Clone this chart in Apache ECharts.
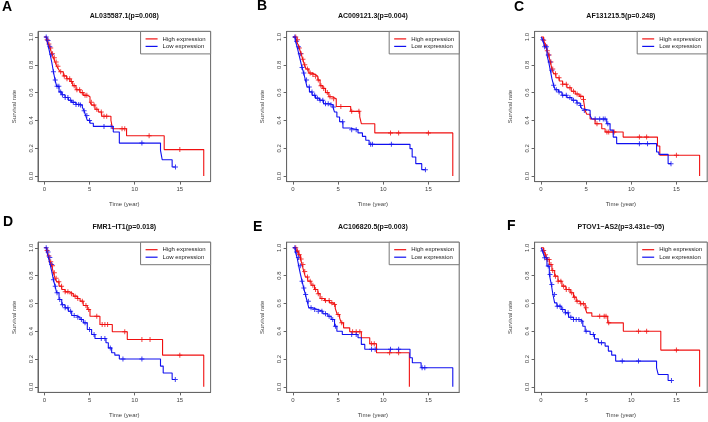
<!DOCTYPE html>
<html>
<head>
<meta charset="utf-8">
<script src="https://cdn.jsdelivr.net/npm/echarts@6.0.0/dist/echarts.min.js"></script>
<style>
html, body { margin: 0; padding: 0; background: #fff; }
#main { width: 708px; height: 422px; }
</style>
</head>
<body>
<div id="main"></div>
<script>
// panel titles and letters
const letters = ['A', 'B', 'C', 'D', 'E', 'F'];
const titles = ['AL035587.1(p=0.008)', 'AC009121.3(p=0.004)', 'AF131215.5(p=0.248)',
                'FMR1\u2212IT1(p=0.018)', 'AC106820.5(p=0.003)', 'PTOV1\u2212AS2(p=3.431e\u221205)'];
const seriesNames = ['High expression', 'Low expression'];
const tickX = [0, 5, 10, 15];
const tickY = [0, 0.2, 0.4, 0.6, 0.8, 1.0];

// KM steps: [time (year), survival after the event]
const highStepsA = [[0,1],[0.26,0.98],[0.44,0.95],[0.63,0.92],[0.81,0.88],[1.0,0.85],[1.18,0.82],[1.36,0.79],[1.55,0.77],[1.73,0.75],[2.1,0.72],[2.47,0.70],[2.84,0.68],[3.13,0.65],[3.5,0.62],[3.95,0.60],[4.3,0.58],[4.75,0.57],[5.05,0.53],[5.23,0.51],[5.6,0.48],[5.97,0.46],[6.34,0.43],[7.37,0.40],[7.55,0.34],[9.1,0.29],[13.27,0.19],[17.65,0]];
const lowStepsA = [[0,1],[0.26,0.975],[0.44,0.93],[0.63,0.875],[0.81,0.82],[1.0,0.75],[1.18,0.69],[1.36,0.645],[1.62,0.605],[1.92,0.585],[2.29,0.565],[2.65,0.545],[3.02,0.53],[3.5,0.515],[3.95,0.51],[4.2,0.495],[4.39,0.47],[4.57,0.435],[4.75,0.40],[5.05,0.38],[5.42,0.357],[7.63,0.317],[8.3,0.237],[12.86,0.185],[13.05,0.117],[14.15,0.065],[14.52,0.065]];
const highCensA = [0.3,0.5,0.7,0.9,1.1,1.3,1.5,1.8,2.2,2.5,2.8,3.0,3.3,3.6,3.9,4.2,4.5,4.7,5.2,5.5,5.8,6.3,6.6,6.9,8.6,8.9,11.6,15.0];
const lowCensA = [0.2,0.4,0.6,0.8,1.0,1.2,1.4,1.6,1.8,2.0,2.3,2.6,2.9,3.2,3.5,3.8,4.0,4.4,4.7,5.0,6.6,7.4,10.8,14.52];

const highStepsB = [[0,1],[0.33,0.98],[0.52,0.95],[0.7,0.92],[0.89,0.88],[1.08,0.84],[1.26,0.80],[1.45,0.77],[1.75,0.74],[2.12,0.73],[2.49,0.717],[2.75,0.69],[3.0,0.65],[3.3,0.63],[3.6,0.60],[3.97,0.57],[4.34,0.556],[4.79,0.50],[6.39,0.465],[7.39,0.425],[7.57,0.376],[9.06,0.31],[17.7,0]];
const lowStepsB = [[0,1],[0.26,0.97],[0.45,0.93],[0.63,0.88],[0.82,0.83],[1.0,0.78],[1.19,0.74],[1.37,0.69],[1.56,0.64],[1.82,0.605],[2.12,0.58],[2.49,0.56],[2.93,0.545],[3.38,0.52],[4.05,0.513],[4.42,0.496],[4.6,0.46],[4.86,0.424],[5.16,0.39],[5.53,0.345],[6.28,0.333],[7.2,0.31],[7.69,0.285],[8.06,0.257],[8.43,0.228],[12.96,0.197],[13.2,0.137],[13.6,0.089],[14.26,0.046],[14.67,0.046]];
const highCensB = [0.3,0.5,0.7,0.9,1.1,1.3,1.6,1.9,2.2,2.5,2.8,3.1,3.4,3.8,4.1,4.5,5.3,6.5,7.3,10.8,11.7,15.0];
const lowCensB = [0.2,0.4,0.6,0.8,1.0,1.2,1.5,1.8,2.1,2.4,2.7,3.0,3.3,3.6,3.9,4.2,4.5,5.5,6.5,7.0,8.6,8.8,10.9,14.67];

const highStepsC = [[0,1],[0.29,0.976],[0.48,0.94],[0.66,0.90],[0.85,0.87],[1.03,0.82],[1.21,0.77],[1.4,0.736],[1.65,0.707],[2.02,0.683],[2.39,0.66],[2.87,0.635],[3.35,0.61],[3.79,0.59],[4.23,0.573],[4.7,0.55],[4.89,0.47],[5.07,0.444],[5.44,0.41],[5.99,0.376],[6.73,0.34],[7.1,0.317],[9.1,0.28],[12.9,0.216],[13.16,0.149],[17.57,0]];
const lowStepsC = [[0,1],[0.18,0.98],[0.4,0.93],[0.66,0.87],[0.85,0.82],[1.03,0.76],[1.21,0.70],[1.4,0.652],[1.58,0.62],[1.95,0.604],[2.32,0.58],[2.87,0.564],[3.42,0.545],[3.97,0.525],[4.34,0.508],[4.52,0.484],[4.7,0.472],[5.44,0.436],[5.63,0.41],[7.28,0.376],[7.65,0.33],[8.0,0.28],[8.38,0.233],[12.8,0.173],[13.05,0.156],[14.08,0.089],[14.4,0.089]];
const highCensC = [0.3,0.5,0.7,0.9,1.1,1.3,1.6,2.0,2.4,2.8,3.2,3.6,4.0,4.4,4.7,6.2,7.3,7.5,8.0,8.1,10.9,11.7,15.0];
const lowCensC = [0.2,0.4,0.6,0.8,1.0,1.2,1.4,1.7,2.0,2.4,2.8,3.2,3.6,4.0,4.4,4.8,6.0,6.5,6.9,7.1,7.4,10.9,11.8,14.4];

const highStepsD = [[0,1],[0.26,0.98],[0.44,0.94],[0.63,0.90],[0.81,0.87],[1.0,0.82],[1.18,0.78],[1.36,0.755],[1.62,0.724],[1.92,0.70],[2.29,0.683],[2.76,0.67],[3.2,0.652],[3.65,0.635],[3.95,0.616],[4.3,0.585],[4.75,0.556],[5.05,0.508],[6.15,0.448],[7.52,0.396],[9.18,0.34],[13.09,0.228],[17.65,0]];
const lowStepsD = [[0,1],[0.26,0.97],[0.44,0.93],[0.63,0.88],[0.81,0.83],[1.0,0.77],[1.18,0.724],[1.36,0.676],[1.62,0.628],[1.92,0.59],[2.29,0.568],[2.65,0.544],[3.02,0.513],[3.5,0.50],[3.95,0.484],[4.31,0.46],[4.75,0.412],[5.23,0.376],[5.6,0.348],[6.82,0.317],[7.08,0.28],[7.45,0.245],[7.8,0.228],[8.3,0.20],[12.86,0.149],[13.16,0.10],[14.15,0.053],[14.5,0.053]];
const highCensD = [0.3,0.5,0.7,0.9,1.1,1.3,1.6,1.9,2.3,2.6,3.0,3.4,3.7,4.2,4.6,4.9,5.8,6.4,6.7,7.0,8.9,10.8,11.7,15.0];
const lowCensD = [0.2,0.4,0.6,0.8,1.0,1.2,1.4,1.7,2.0,2.3,2.6,2.9,3.3,3.7,4.1,4.5,5.0,5.5,6.3,6.7,7.3,8.7,10.8,14.5];

const highStepsE = [[0,1],[0.33,0.976],[0.59,0.95],[0.82,0.92],[1.0,0.88],[1.19,0.83],[1.37,0.79],[1.63,0.76],[2.0,0.73],[2.38,0.70],[2.75,0.67],[3.0,0.635],[3.49,0.62],[4.05,0.604],[4.42,0.592],[4.68,0.564],[4.9,0.52],[5.16,0.496],[5.35,0.46],[5.6,0.424],[6.28,0.396],[7.57,0.353],[8.5,0.31],[9.25,0.245],[12.89,0]];
const lowStepsE = [[0,1],[0.26,0.97],[0.45,0.93],[0.63,0.87],[0.82,0.81],[1.0,0.76],[1.19,0.71],[1.37,0.664],[1.56,0.616],[1.75,0.568],[2.12,0.556],[2.75,0.544],[3.3,0.525],[3.86,0.508],[4.23,0.484],[4.6,0.436],[4.86,0.40],[5.46,0.376],[7.2,0.353],[7.57,0.305],[7.95,0.27],[12.96,0.209],[13.22,0.173],[14.19,0.137],[17.7,0]];
const highCensE = [0.3,0.5,0.7,0.9,1.1,1.3,1.6,1.9,2.2,2.5,2.8,3.2,3.6,4.0,4.3,4.6,5.0,5.4,6.6,7.0,7.4,8.7,9.0,10.7,11.7];
const lowCensE = [0.2,0.4,0.6,0.8,1.0,1.2,1.4,1.7,2.0,2.4,2.8,3.2,3.6,4.0,4.4,4.7,6.5,7.0,8.7,9.1,10.8,11.7,14.3,14.6];

const highStepsF = [[0,1],[0.29,0.98],[0.48,0.95],[0.66,0.916],[0.92,0.88],[1.21,0.837],[1.51,0.796],[1.88,0.76],[2.32,0.724],[2.76,0.70],[3.24,0.676],[3.6,0.645],[3.9,0.616],[4.34,0.597],[4.89,0.568],[5.07,0.532],[5.63,0.508],[7.39,0.46],[9.12,0.40],[13.27,0.264],[17.57,0]];
const lowStepsF = [[0,1],[0.18,0.976],[0.4,0.928],[0.66,0.868],[0.92,0.808],[1.14,0.736],[1.32,0.664],[1.51,0.604],[1.76,0.58],[2.24,0.556],[2.68,0.532],[3.05,0.50],[3.6,0.484],[4.34,0.472],[4.63,0.436],[4.89,0.40],[5.44,0.376],[5.92,0.345],[6.36,0.317],[7.1,0.293],[7.46,0.257],[7.83,0.228],[8.27,0.185],[12.8,0.137],[12.98,0.089],[14.08,0.046],[14.45,0.046]];
const highCensF = [0.3,0.5,0.7,0.9,1.1,1.3,1.6,1.9,2.2,2.5,2.8,3.1,3.4,3.7,4.0,4.4,4.7,5.0,6.5,7.0,7.2,7.5,10.8,11.7,15.0];
const lowCensF = [0.2,0.4,0.6,0.8,1.0,1.2,1.5,1.8,2.1,2.4,2.7,3.0,3.3,3.6,3.9,4.2,4.5,5.0,5.8,6.7,9.0,10.8,14.45];

const highSteps = [highStepsA, highStepsB, highStepsC, highStepsD, highStepsE, highStepsF];
const lowSteps = [lowStepsA, lowStepsB, lowStepsC, lowStepsD, lowStepsE, lowStepsF];
const highCens = [highCensA, highCensB, highCensC, highCensD, highCensE, highCensF];
const lowCens = [lowCensA, lowCensB, lowCensC, lowCensD, lowCensE, lowCensF];

// layout
const RED = '#f01010';
const BLUE = '#1010f0';
const FONT = 'Liberation Sans, Arial, sans-serif';
const colLeft = [38, 286.6, 534.6];
const rowTop = [31.4, 242.2];
const boxW = 172.6;
const boxH = 150.2;
const titleY = [15.7, 226.7];
const letterPos = [[2, 7], [257, 6.5], [514, 7.5], [3, 222.5], [253, 227], [507, 226.5]];
const PLUS = 'path://M2,0h1v2h2v1h-2v2h-1v-2h-2v-1h2z';

function stepAt(steps, t) {
    let s = steps[0][1];
    for (let i = 0; i < steps.length; i++) {
        if (steps[i][0] <= t) s = steps[i][1];
    }
    return s;
}

const chart = echarts.init(document.getElementById('main'));

let grids = [], xAxes = [], yAxes = [], series = [], legends = [], texts = [];
for (let i = 0; i < 6; i++) {
    const left = colLeft[i % 3];
    const top = rowTop[Math.floor(i / 3)];
    grids.push({left: left, top: top, width: boxW, height: boxH, show: true, borderColor: '#666', borderWidth: 1});
    xAxes.push({
        gridIndex: i, type: 'value', min: -0.71, max: 18.41,
        axisLine: {show: true, onZero: false, lineStyle: {color: '#666'}},
        splitLine: {show: false},
        axisTick: {show: true, customValues: tickX, length: 3, lineStyle: {color: '#666'}},
        axisLabel: {customValues: tickX, margin: 5, fontSize: 6, color: '#444', fontFamily: FONT},
        name: 'Time (year)', nameLocation: 'middle', nameGap: 20,
        nameTextStyle: {fontSize: 6, color: '#444', fontFamily: FONT}
    });
    yAxes.push({
        gridIndex: i, type: 'value', min: -0.04, max: 1.04,
        axisLine: {show: true, onZero: false, lineStyle: {color: '#666'}},
        splitLine: {show: false},
        axisTick: {show: true, customValues: tickY, length: 3, lineStyle: {color: '#666'}},
        axisLabel: {customValues: tickY, rotate: 90, margin: 4, fontSize: 6, color: '#444', fontFamily: FONT,
                    formatter: v => v.toFixed(1)},
        name: 'Survival rate', nameLocation: 'middle', nameGap: 21,
        nameTextStyle: {fontSize: 6, color: '#444', fontFamily: FONT}
    });
    [[highSteps[i], highCens[i], RED, seriesNames[0]], [lowSteps[i], lowCens[i], BLUE, seriesNames[1]]].forEach(g => {
        series.push({
            type: 'line', name: g[3], xAxisIndex: i, yAxisIndex: i, data: g[0], step: 'end',
            symbol: 'none', showSymbol: false, lineStyle: {color: g[2], width: 1.1}, itemStyle: {color: g[2]},
            silent: true
        });
        series.push({
            type: 'scatter', name: g[3] + ' censored', xAxisIndex: i, yAxisIndex: i,
            data: g[1].map(t => [t, stepAt(g[0], t)]),
            symbol: PLUS, symbolSize: 5, itemStyle: {color: g[2]}, silent: true
        });
    });
    legends.push({
        data: seriesNames, orient: 'vertical', right: 708 - (left + boxW), top: top,
        icon: 'rect', itemWidth: 12, itemHeight: 1.2, itemGap: 0.5, padding: [4, 5, 4, 5],
        borderColor: '#777', borderWidth: 1, backgroundColor: '#fff', selectedMode: false,
        textStyle: {fontSize: 6, lineHeight: 7, color: '#222', fontFamily: FONT, padding: [0, 0, 0, 0]}
    });
    texts.push({
        type: 'text', left: 0, top: 0, z: 100,
        style: {x: left + boxW / 2, y: titleY[Math.floor(i / 3)], text: titles[i], textAlign: 'center',
                textVerticalAlign: 'middle', font: 'bold 7px ' + FONT, fill: '#111'}
    });
    texts.push({
        type: 'text', z: 100,
        style: {x: letterPos[i][0], y: letterPos[i][1], text: letters[i], textAlign: 'left',
                textVerticalAlign: 'middle', font: 'bold 14px ' + FONT, fill: '#000'}
    });
}

chart.setOption({
    animation: false,
    grid: grids,
    xAxis: xAxes,
    yAxis: yAxes,
    legend: legends,
    series: series,
    graphic: texts.map(t => { const c = Object.assign({}, t); delete c.left; delete c.top; return c; })
});
</script>
</body>
</html>
